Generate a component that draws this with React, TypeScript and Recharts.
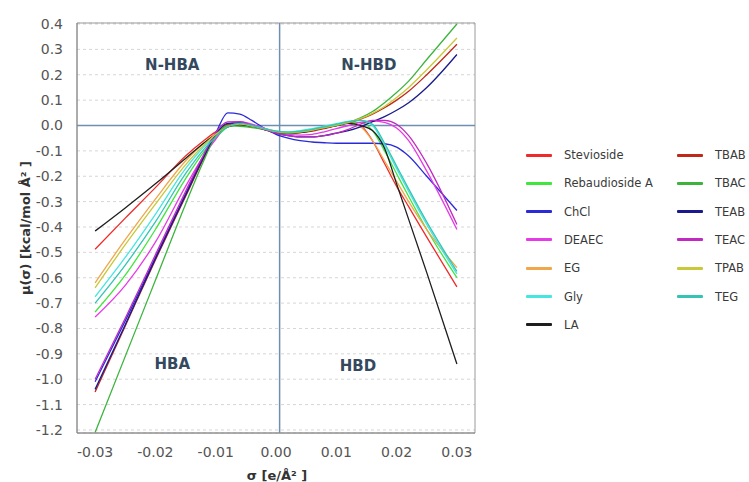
import React from 'react';
import {
  LineChart,
  Line,
  XAxis,
  YAxis,
  CartesianGrid,
  ReferenceLine,
  ReferenceArea,
  ReferenceDot,
} from 'recharts';

// ---- data -------------------------------------------------------------
const SIGMA = [
  -0.03, -0.025, -0.02, -0.015, -0.012, -0.01, -0.008, -0.006, -0.004, -0.002, 0,
  0.002, 0.004, 0.006, 0.008, 0.01, 0.012, 0.014, 0.016, 0.018, 0.02, 0.022, 0.025, 0.03,
];

const STEVIOSIDE = [-0.488, -0.365, -0.245, -0.12, -0.06, -0.025, 0.0, 0.008, 0.0, -0.012, -0.025, -0.03, -0.028, -0.022, -0.012, 0.0, 0.01, 0.0, -0.06, -0.15, -0.24, -0.32, -0.44, -0.636];
const REBAUDIOSIDE_A = [-0.735, -0.59, -0.41, -0.21, -0.105, -0.05, -0.006, 0.008, 0.0, -0.012, -0.022, -0.028, -0.025, -0.018, -0.008, 0.003, 0.012, 0.012, -0.02, -0.1, -0.19, -0.28, -0.41, -0.6];
const CHCL = [-1.01, -0.77, -0.52, -0.27, -0.12, -0.03, 0.05, 0.045, 0.02, -0.01, -0.035, -0.05, -0.06, -0.065, -0.068, -0.07, -0.07, -0.07, -0.07, -0.072, -0.085, -0.12, -0.2, -0.335];
const DEAEC = [-0.755, -0.63, -0.46, -0.24, -0.12, -0.055, 0.005, 0.015, 0.005, -0.01, -0.025, -0.035, -0.038, -0.035, -0.025, -0.012, 0.0, 0.012, 0.018, 0.012, -0.01, -0.06, -0.18, -0.41];
const EG = [-0.62, -0.45, -0.29, -0.14, -0.07, -0.033, -0.003, 0.006, -0.002, -0.013, -0.024, -0.03, -0.027, -0.02, -0.01, 0.002, 0.01, -0.005, -0.06, -0.14, -0.22, -0.3, -0.41, -0.56];
const GLY = [-0.675, -0.52, -0.35, -0.17, -0.085, -0.04, -0.004, 0.008, 0.0, -0.012, -0.022, -0.025, -0.02, -0.012, -0.003, 0.007, 0.016, 0.02, 0.0, -0.08, -0.17, -0.26, -0.39, -0.585];
const LA = [-0.416, -0.325, -0.23, -0.13, -0.07, -0.035, -0.005, 0.003, -0.005, -0.015, -0.025, -0.03, -0.028, -0.02, -0.01, 0.0, 0.008, 0.0, -0.02, -0.09, -0.23, -0.37, -0.58, -0.94];
const TBAB = [-1.05, -0.79, -0.53, -0.28, -0.13, -0.04, 0.005, 0.008, -0.003, -0.015, -0.025, -0.03, -0.025, -0.02, -0.01, 0.0, 0.01, 0.025, 0.045, 0.07, 0.1, 0.135, 0.2, 0.32];
const TBAC = [-1.21, -0.91, -0.61, -0.31, -0.14, -0.04, 0.0, -0.003, -0.008, -0.016, -0.025, -0.03, -0.025, -0.018, -0.008, 0.0, 0.012, 0.03, 0.055, 0.09, 0.13, 0.175, 0.26, 0.4];
const TEAB = [-1.04, -0.785, -0.525, -0.275, -0.125, -0.035, 0.008, 0.01, 0.0, -0.015, -0.03, -0.04, -0.045, -0.045, -0.04, -0.03, -0.02, -0.005, 0.015, 0.035, 0.06, 0.09, 0.15, 0.28];
const TEAC = [-1.0, -0.76, -0.51, -0.26, -0.115, -0.028, 0.014, 0.015, 0.0, -0.015, -0.03, -0.04, -0.045, -0.045, -0.04, -0.03, -0.015, 0.005, 0.02, 0.02, 0.005, -0.04, -0.15, -0.39];
const TPAB = [-0.64, -0.47, -0.31, -0.155, -0.078, -0.035, -0.004, 0.006, -0.002, -0.013, -0.024, -0.028, -0.025, -0.018, -0.008, 0.002, 0.012, 0.027, 0.048, 0.075, 0.11, 0.15, 0.22, 0.345];
const TEG = [-0.7, -0.55, -0.38, -0.19, -0.095, -0.045, -0.005, 0.008, 0.0, -0.012, -0.022, -0.026, -0.022, -0.015, -0.005, 0.005, 0.015, 0.02, 0.005, -0.07, -0.16, -0.25, -0.38, -0.575];

const X_TICKS = [-0.03, -0.02, -0.01, 0, 0.01, 0.02, 0.03];
const Y_TICKS = [0.4, 0.3, 0.2, 0.1, 0, -0.1, -0.2, -0.3, -0.4, -0.5, -0.6, -0.7, -0.8, -0.9, -1.0, -1.1, -1.2];

const X_DOMAIN: [number, number] = [-0.033, 0.033];
const Y_DOMAIN: [number, number] = [-1.212, 0.404];
const AXIS_CROSS_X = 0.0006;

const REGION_LABELS = [
  { text: 'N-HBA', x: -0.0172, y: 0.238 },
  { text: 'N-HBD', x: 0.0154, y: 0.238 },
  { text: 'HBA', x: -0.0172, y: -0.94 },
  { text: 'HBD', x: 0.0136, y: -0.948 },
];

const SERIES = [
  { key: 'Stevioside', values: STEVIOSIDE, color: '#f02a2a' },
  { key: 'Rebaudioside A', values: REBAUDIOSIDE_A, color: '#3ee63e' },
  { key: 'ChCl', values: CHCL, color: '#2a2ad8' },
  { key: 'DEAEC', values: DEAEC, color: '#e63ae6' },
  { key: 'EG', values: EG, color: '#f0a64a' },
  { key: 'Gly', values: GLY, color: '#46e6e0' },
  { key: 'LA', values: LA, color: '#1e1e1e' },
  { key: 'TBAB', values: TBAB, color: '#c0281a' },
  { key: 'TBAC', values: TBAC, color: '#3cb43c' },
  { key: 'TEAB', values: TEAB, color: '#1a1a8c' },
  { key: 'TEAC', values: TEAC, color: '#c02ac0' },
  { key: 'TPAB', values: TPAB, color: '#c8c83a' },
  { key: 'TEG', values: TEG, color: '#34c4b4' },
];

const LEGEND_COL1 = ['Stevioside', 'Rebaudioside A', 'ChCl', 'DEAEC', 'EG', 'Gly', 'LA'];
const LEGEND_COL2 = ['TBAB', 'TBAC', 'TEAB', 'TEAC', 'TPAB', 'TEG'];

const data = SIGMA.map((s, i) => {
  const row: Record<string, number> = { sigma: s };
  SERIES.forEach((sr) => {
    row[sr.key] = sr.values[i];
  });
  return row;
});

const colorOf = (k: string) => SERIES.find((s) => s.key === k)?.color ?? '#000';

const FONT = '"DejaVu Sans", Verdana, sans-serif';

function LegendColumn({ items, left }: { items: string[]; left: number }) {
  return (
    <>
      {items.map((name, i) => (
        <div
          key={name}
          style={{
            position: 'absolute',
            left,
            top: 155 + i * 28.3 - 8,
            height: 16,
            display: 'flex',
            alignItems: 'center',
            whiteSpace: 'nowrap',
          }}
        >
          <div style={{ width: 26, height: 3, background: colorOf(name), borderRadius: 1 }} />
          <span
            style={{
              marginLeft: 12,
              fontFamily: FONT,
              fontSize: 11.5,
              color: '#3a3a3a',
            }}
          >
            {name}
          </span>
        </div>
      ))}
    </>
  );
}

export default function App() {
  return (
    <div
      style={{
        position: 'absolute',
        left: 0,
        top: 0,
        width: 749,
        height: 482,
        background: '#fff',
        fontFamily: FONT,
      }}
    >
      <LineChart
        width={749}
        height={482}
        data={data}
        margin={{ top: 23, right: 274, bottom: 0, left: 0 }}
      >
        <CartesianGrid vertical={false} stroke="#d6d6d6" strokeDasharray="3 3" />
        <XAxis
          dataKey="sigma"
          type="number"
          domain={X_DOMAIN}
          ticks={X_TICKS}
          allowDataOverflow
          tickFormatter={(v: number) => v.toFixed(2)}
          height={49}
          tickLine={false}
          tickSize={6}
          tickMargin={8}
          axisLine={{ stroke: '#8a8a8a' }}
          tick={{ fill: '#555', fontSize: 14, fontFamily: FONT }}
          label={{
            content: () => (
              <text
                x={277}
                y={475}
                textAnchor="middle"
                dominantBaseline="central"
                fontFamily={FONT}
                fontSize={13}
                fontWeight="bold"
                fill="#333"
              >
                σ [e/Å² ]
              </text>
            ),
          }}
        />
        <YAxis
          type="number"
          domain={Y_DOMAIN}
          ticks={Y_TICKS}
          allowDataOverflow
          tickFormatter={(v: number) => v.toFixed(1)}
          width={77}
          tickLine={false}
          tickSize={6}
          tickMargin={8}
          axisLine={{ stroke: '#8a8a8a' }}
          tick={{ fill: '#555', fontSize: 14, fontFamily: FONT }}
          label={{
            content: () => (
              <text
                x={25}
                y={228}
                transform="rotate(-90 25 228)"
                textAnchor="middle"
                dominantBaseline="central"
                fontFamily={FONT}
                fontSize={13}
                fontWeight="bold"
                fill="#333"
              >
                μ(σ) [kcal/mol Å² ]
              </text>
            ),
          }}
        />
        <ReferenceArea
          x1={X_DOMAIN[0]}
          x2={X_DOMAIN[1]}
          y1={Y_DOMAIN[0]}
          y2={Y_DOMAIN[1]}
          fill="none"
          fillOpacity={0}
          stroke="#9a9a9a"
          strokeWidth={1}
          ifOverflow="visible"
        />
        <ReferenceLine y={0} stroke="#6e8fb2" strokeWidth={1.5} />
        <ReferenceLine x={AXIS_CROSS_X} stroke="#6e8fb2" strokeWidth={1.5} />
        {SERIES.map((s) => (
          <Line
            key={s.key}
            dataKey={s.key}
            name={s.key}
            type="monotone"
            stroke={s.color}
            strokeWidth={1.3}
            dot={false}
            isAnimationActive={false}
          />
        ))}
        {REGION_LABELS.map((l) => (
          <ReferenceDot
            key={l.text}
            x={l.x}
            y={l.y}
            r={0.01}
            fill="none"
            stroke="none"
            label={{
              value: l.text,
              position: 'center',
              fill: '#34495e',
              fontSize: 15,
              fontWeight: 'bold',
              fontFamily: FONT,
            }}
          />
        ))}
      </LineChart>
      <LegendColumn items={LEGEND_COL1} left={526} />
      <LegendColumn items={LEGEND_COL2} left={677} />
    </div>
  );
}
